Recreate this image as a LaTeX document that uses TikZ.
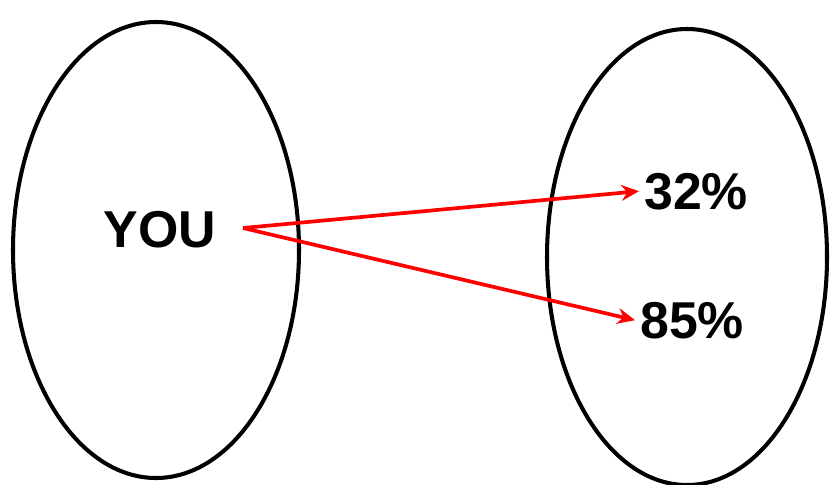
\documentclass[tikz,border=0pt]{standalone}
\usepackage{fontspec}
\setmainfont{Liberation Sans}
\usetikzlibrary{arrows.meta}
\tikzset{
  bubble/.style={draw=black, line width=2.3pt},
  word/.style={font=\fontsize{29.5}{31}\selectfont\bfseries, inner sep=0pt, outer sep=3pt},
  link/.style={red, line width=2.1pt, -{Stealth[length=10pt,width=9pt]}}
}
\begin{document}
\begin{tikzpicture}[x=0.02cm, y=-0.02cm]
            \useasboundingbox (0,0) rectangle (831,484);
            % sets
            \draw[bubble] (156,250) ellipse (143 and 228);
            \draw[bubble] (687,257) ellipse (140 and 228);
            % labels
            \node[word, anchor=base] (you) at (160,247) {YOU};
            \node[word, anchor=base west] (p32) at (639,209) {32\%};
            \node[word, anchor=base west] (p85) at (635,338) {85\%};
            \coordinate (src) at (243,228);
            % map
            \draw[link] (src) -- (p32.west);
            \draw[link] (src) -- (p85.west);
\end{tikzpicture}
\end{document}
